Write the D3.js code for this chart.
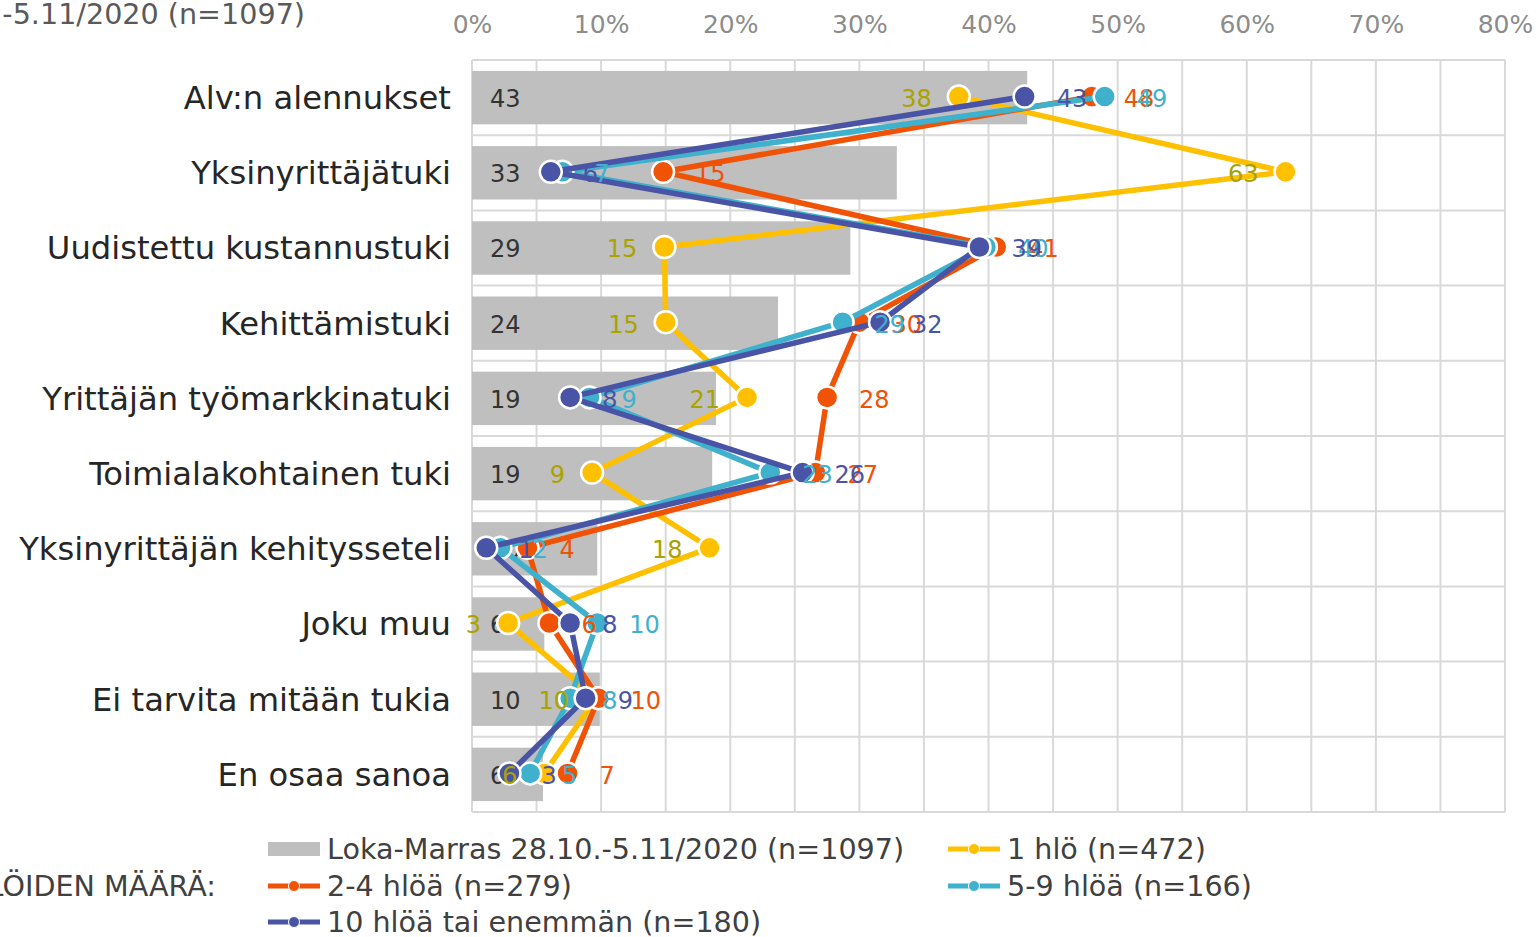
<!DOCTYPE html>
<html><head><meta charset="utf-8">
<script src="https://cdn.jsdelivr.net/npm/d3@7"></script>
<style>html,body{margin:0;padding:0;background:#fff;overflow:hidden}</style>
</head><body>
<svg id="chart" width="1540" height="937"></svg>
<script>
const categories = ["Alv:n alennukset","Yksinyrittäjätuki","Uudistettu kustannustuki","Kehittämistuki","Yrittäjän työmarkkinatuki","Toimialakohtainen tuki","Yksinyrittäjän kehitysseteli","Joku muu","Ei tarvita mitään tukia","En osaa sanoa"];
const totalValues = [43, 32.9, 29.3, 23.7, 18.9, 18.6, 9.7, 5.6, 9.9, 5.5];
const hlo1 = [37.7, 63, 14.9, 15, 21.3, 9.3, 18.4, 2.8, 9.6, 5.6];
const hlo2_4 = [48, 14.8, 40.6, 30, 27.5, 26.6, 4.3, 6.0, 9.8, 7.4];
const hlo5_9 = [49, 7.0, 39.8, 28.7, 9.1, 23.1, 2.2, 9.7, 7.6, 4.5];
const hlo10 = [42.8, 6.1, 39.3, 31.6, 7.6, 25.6, 1.1, 7.6, 8.8, 2.9];
const xTicks = [0,10,20,30,40,50,60,70,80];
const totalName = "Loka-Marras 28.10.-5.11/2020 (n=1097)";
const seriesNames = ["1 hlö (n=472)","2-4 hlöä (n=279)","5-9 hlöä (n=166)","10 hlöä tai enemmän (n=180)"];
const legendTitle = "YRITYKSEN HENKILÖIDEN MÄÄRÄ:";

const series = [
  {name: seriesNames[0], values: hlo1, color: "#FFC000", label: "#A9A200", side: "left"},
  {name: seriesNames[1], values: hlo2_4, color: "#F05206", label: "#F05206", side: "right"},
  {name: seriesNames[2], values: hlo5_9, color: "#3FB1CC", label: "#3FB1CC", side: "right"},
  {name: seriesNames[3], values: hlo10, color: "#4A54A6", label: "#4A54A6", side: "right"}
];

const font = "DejaVu Sans, Verdana, sans-serif";
const svg = d3.select("#chart");
const x = d3.scaleLinear().domain([0,80]).range([472,1505]);
const y = d3.scaleBand().domain(categories).range([60,812]).paddingInner(0.29).paddingOuter(0.145);
const yc = d => y(d) + y.bandwidth()/2;

// gridlines
const grid = svg.append("g");
d3.range(0,80.1,5).forEach(v => {
  grid.append("line").attr("x1", x(v)).attr("x2", x(v)).attr("y1", 60).attr("y2", 812)
    .attr("stroke", "#D9D9D9").attr("stroke-width", 2);
});
const step = 752/categories.length;
d3.range(0, categories.length+1).forEach(i => {
  grid.append("line").attr("x1", 472).attr("x2", 1505).attr("y1", 60+i*step).attr("y2", 60+i*step)
    .attr("stroke", "#D9D9D9").attr("stroke-width", 2);
});

// x axis on top
const xAxis = d3.axisTop(x).tickValues(xTicks).tickFormat(d => d + "%").tickSize(0).tickPadding(0);
const ax = svg.append("g").attr("transform", "translate(0,33)").call(xAxis);
ax.select(".domain").remove();
ax.selectAll("text").attr("font-family", font).attr("font-size", 25).attr("fill", "#8C8C8C");

// y axis labels
const yAxis = d3.axisLeft(y).tickSize(0).tickPadding(0);
const ay = svg.append("g").attr("transform", "translate(451,1)").call(yAxis);
ay.select(".domain").remove();
ay.selectAll("text").attr("font-family", font).attr("font-size", 32.2).attr("fill", "#262626");

// bars
svg.append("g").selectAll("rect").data(categories).join("rect")
  .attr("x", x(0)).attr("y", d => y(d)).attr("height", y.bandwidth())
  .attr("width", (d,i) => x(totalValues[i]) - x(0)).attr("fill", "#BFBFBF");
svg.append("g").selectAll("text").data(categories).join("text")
  .attr("x", x(0)+18).attr("y", d => yc(d)+1).attr("dy", "0.35em")
  .attr("font-family", font).attr("font-size", 24).attr("fill", "#333")
  .text((d,i) => d3.format(".0f")(totalValues[i]));

// lines
const line = d3.line().x(d => x(d.v)).y(d => yc(d.c) - 1);
series.forEach(s => {
  const pts = categories.map((c,i) => ({c, v: s.values[i]}));
  const g = svg.append("g");
  g.append("path").datum(pts).attr("d", line).attr("fill", "none")
    .attr("stroke", s.color).attr("stroke-width", 5.5).attr("stroke-linejoin", "round");
  g.selectAll("circle").data(pts).join("circle")
    .attr("cx", d => x(d.v)).attr("cy", d => yc(d.c) - 1).attr("r", 11)
    .attr("fill", s.color).attr("stroke", "#fff").attr("stroke-width", 2.5);
});
// labels
series.forEach(s => {
  const pts = categories.map((c,i) => ({c, v: s.values[i]}));
  svg.append("g").selectAll("text").data(pts).join("text")
    .attr("x", d => s.side === "left" ? x(d.v) - 27 : x(d.v) + 32)
    .attr("y", d => yc(d.c)+1).attr("dy", "0.35em")
    .attr("text-anchor", s.side === "left" ? "end" : "start")
    .attr("font-family", font).attr("font-size", 24).attr("fill", s.label)
    .text(d => d3.format(".0f")(d.v));
});

// title (cut off at left)
svg.append("text").attr("x", 305).attr("y", 24).attr("text-anchor", "end")
  .attr("font-family", font).attr("font-size", 28.6).attr("fill", "#595959").text(totalName);

// legend
const lg = svg.append("g").attr("font-family", font).attr("font-size", 28.6).attr("fill", "#404040");
lg.append("text").attr("x", 216).attr("y", 886).attr("dy", "0.35em").attr("text-anchor", "end").text(legendTitle);
const legendItems = [
  {type: "bar", name: totalName, color: "#BFBFBF", lx: 268, ly: 849},
  {type: "line", name: series[0].name, color: series[0].color, lx: 948, ly: 849},
  {type: "line", name: series[1].name, color: series[1].color, lx: 268, ly: 886},
  {type: "line", name: series[2].name, color: series[2].color, lx: 948, ly: 886},
  {type: "line", name: series[3].name, color: series[3].color, lx: 268, ly: 922}
];
legendItems.forEach(it => {
  if (it.type === "bar") {
    lg.append("rect").attr("x", it.lx).attr("y", it.ly-7).attr("width", 52).attr("height", 14).attr("fill", it.color);
  } else {
    lg.append("line").attr("x1", it.lx).attr("x2", it.lx+52).attr("y1", it.ly).attr("y2", it.ly)
      .attr("stroke", it.color).attr("stroke-width", 5);
    lg.append("circle").attr("cx", it.lx+26).attr("cy", it.ly).attr("r", 5.5).attr("fill", it.color)
      .attr("stroke", "#fff").attr("stroke-width", 1);
  }
  lg.append("text").attr("x", it.lx+59).attr("y", it.ly).attr("dy", "0.35em").text(it.name);
});
</script>
</body></html>
